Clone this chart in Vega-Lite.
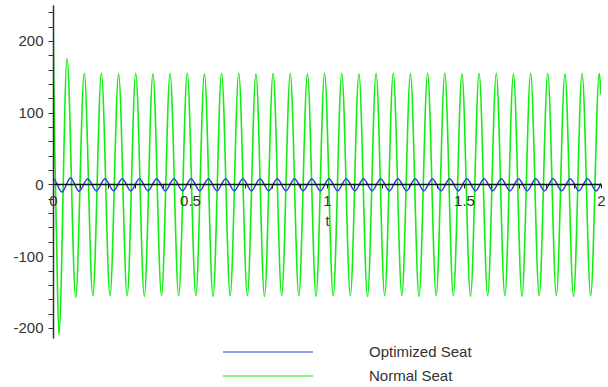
{
  "$schema": "https://vega.github.io/schema/vega-lite/v6.json",
  "width": 548,
  "height": 333,
  "autosize": {"type": "none"},
  "padding": {"left": 53, "top": 5, "right": 7, "bottom": 49},
  "background": "white",
  "config": {
    "view": {"stroke": null},
    "font": "Liberation Sans"
  },
  "datasets": {
    "normal": [
      {"t": 0, "v": 250}, {"t": 0.003, "v": 140}, {"t": 0.0135, "v": -85}, {"t": 0.0215, "v": -210},
      {"t": 0.0514, "v": 175}, {"t": 0.0828, "v": -157},
      {"t": 0.1141, "v": 155}, {"t": 0.1454, "v": -155}, {"t": 0.1767, "v": 155}, {"t": 0.2080, "v": -155},
      {"t": 0.2394, "v": 154}, {"t": 0.2707, "v": -155}, {"t": 0.3020, "v": 155}, {"t": 0.3333, "v": -156},
      {"t": 0.3647, "v": 154}, {"t": 0.3960, "v": -155}, {"t": 0.4273, "v": 155}, {"t": 0.4587, "v": -155},
      {"t": 0.4900, "v": 155}, {"t": 0.5213, "v": -155}, {"t": 0.5526, "v": 154}, {"t": 0.5840, "v": -156},
      {"t": 0.6153, "v": 155}, {"t": 0.6466, "v": -155}, {"t": 0.6779, "v": 155}, {"t": 0.7093, "v": -155},
      {"t": 0.7406, "v": 154}, {"t": 0.7719, "v": -156}, {"t": 0.8032, "v": 155}, {"t": 0.8346, "v": -155},
      {"t": 0.8659, "v": 155}, {"t": 0.8972, "v": -155}, {"t": 0.9286, "v": 154}, {"t": 0.9599, "v": -156},
      {"t": 0.9912, "v": 155}, {"t": 1.0225, "v": -155}, {"t": 1.0539, "v": 155}, {"t": 1.0852, "v": -155},
      {"t": 1.1165, "v": 154}, {"t": 1.1478, "v": -156}, {"t": 1.1792, "v": 155}, {"t": 1.2105, "v": -155},
      {"t": 1.2418, "v": 155}, {"t": 1.2732, "v": -155}, {"t": 1.3045, "v": 154}, {"t": 1.3358, "v": -156},
      {"t": 1.3671, "v": 155}, {"t": 1.3985, "v": -155}, {"t": 1.4298, "v": 155}, {"t": 1.4611, "v": -155},
      {"t": 1.4924, "v": 154}, {"t": 1.5238, "v": -156}, {"t": 1.5551, "v": 155}, {"t": 1.5864, "v": -155},
      {"t": 1.6178, "v": 155}, {"t": 1.6491, "v": -155}, {"t": 1.6804, "v": 154}, {"t": 1.7117, "v": -156},
      {"t": 1.7431, "v": 155}, {"t": 1.7744, "v": -155}, {"t": 1.8057, "v": 155}, {"t": 1.8370, "v": -155},
      {"t": 1.8684, "v": 154}, {"t": 1.8997, "v": -156}, {"t": 1.9310, "v": 155}, {"t": 1.9623, "v": -155},
      {"t": 1.9937, "v": 155}, {"t": 2.0, "v": 125}
    ],
    "optimized": [
      {"t": 0, "v": 7}, {"t": 0.001, "v": 8}, {"t": 0.0325, "v": -10.5}, {"t": 0.0639, "v": 9}, {"t": 0.0954, "v": -9.7},
      {"t": 0.1268, "v": 8}, {"t": 0.1583, "v": -9}, {"t": 0.1897, "v": 8}, {"t": 0.2212, "v": -9},
      {"t": 0.2526, "v": 8}, {"t": 0.2840, "v": -9}, {"t": 0.3155, "v": 8}, {"t": 0.3470, "v": -9},
      {"t": 0.3784, "v": 8}, {"t": 0.4098, "v": -9}, {"t": 0.4413, "v": 8}, {"t": 0.4728, "v": -9},
      {"t": 0.5042, "v": 8}, {"t": 0.5357, "v": -9}, {"t": 0.5671, "v": 8}, {"t": 0.5986, "v": -9},
      {"t": 0.6300, "v": 8}, {"t": 0.6615, "v": -9}, {"t": 0.6929, "v": 8}, {"t": 0.7244, "v": -9},
      {"t": 0.7558, "v": 8}, {"t": 0.7873, "v": -9}, {"t": 0.8187, "v": 8}, {"t": 0.8502, "v": -9},
      {"t": 0.8816, "v": 8}, {"t": 0.9131, "v": -9}, {"t": 0.9445, "v": 8}, {"t": 0.9760, "v": -9},
      {"t": 1.0074, "v": 8}, {"t": 1.0389, "v": -9}, {"t": 1.0703, "v": 8}, {"t": 1.1018, "v": -9},
      {"t": 1.1332, "v": 8}, {"t": 1.1647, "v": -9}, {"t": 1.1961, "v": 8}, {"t": 1.2276, "v": -9},
      {"t": 1.2590, "v": 8}, {"t": 1.2905, "v": -9}, {"t": 1.3219, "v": 8}, {"t": 1.3534, "v": -9},
      {"t": 1.3848, "v": 8}, {"t": 1.4163, "v": -9}, {"t": 1.4477, "v": 8}, {"t": 1.4792, "v": -9},
      {"t": 1.5106, "v": 8}, {"t": 1.5421, "v": -9}, {"t": 1.5735, "v": 8}, {"t": 1.6050, "v": -9},
      {"t": 1.6364, "v": 8}, {"t": 1.6679, "v": -9}, {"t": 1.6993, "v": 8}, {"t": 1.7308, "v": -9},
      {"t": 1.7622, "v": 8}, {"t": 1.7937, "v": -9}, {"t": 1.8251, "v": 8}, {"t": 1.8566, "v": -9},
      {"t": 1.8880, "v": 8}, {"t": 1.9195, "v": -9}, {"t": 1.9509, "v": 8}, {"t": 1.9824, "v": -9},
      {"t": 2.0, "v": 1.5}
    ]
  },
  "encoding": {
    "x": {
      "field": "t", "type": "quantitative",
      "scale": {"domain": [0, 2], "nice": false, "zero": false},
      "axis": {
        "orient": "bottom", "offset": -154, "zindex": 1,
        "values": [0, 0.1, 0.2, 0.3, 0.4, 0.5, 0.6, 0.7, 0.8, 0.9, 1, 1.1, 1.2, 1.3, 1.4, 1.5, 1.6, 1.7, 1.8, 1.9, 2],
        "labelExpr": "round(datum.value*10) % 5 == 0 ? '' + datum.value : ''",
        "grid": false, "domainColor": "#111111", "domainWidth": 1.5,
        "tickColor": "#222222", "tickSize": 4, "tickWidth": 1,
        "labelFont": "Liberation Sans", "labelFontSize": 15, "labelColor": "#333333", "labelPadding": 5,
        "labelOverlap": false, "labelFlush": false, "labelBound": false,
        "title": "t", "titleFont": "Liberation Sans", "titleFontSize": 14, "titleFontWeight": "normal",
        "titleColor": "#333333", "titlePadding": 6
      }
    },
    "y": {
      "field": "v", "type": "quantitative",
      "scale": {"domain": [-214, 250], "nice": false, "zero": false},
      "axis": {
        "zindex": 1,
        "values": [-200, -180, -160, -140, -120, -100, -80, -60, -40, -20, 0, 20, 40, 60, 80, 100, 120, 140, 160, 180, 200, 220, 240],
        "labelExpr": "datum.value % 100 == 0 ? '' + datum.value : ''",
        "grid": false, "domainColor": "#333333", "domainWidth": 1.5,
        "tickColor": "#333333", "tickSize": 5, "tickWidth": 1,
        "labelFont": "Liberation Sans", "labelFontSize": 15, "labelColor": "#333333", "labelPadding": 5,
        "labelOverlap": false, "labelFlush": false, "labelBound": false,
        "title": null
      }
    },
    "color": {
      "field": "series", "type": "nominal",
      "scale": {"domain": ["Optimized Seat", "Normal Seat"], "range": ["#2a3ee8", "#11ee11"]},
      "legend": {
        "orient": "none", "legendX": 204, "legendY": 336, "title": null,
        "symbolType": "M-4.5,0H4.5", "symbolSize": 400, "symbolStrokeWidth": 1.2,
        "labelOffset": 90, "labelFont": "Liberation Sans", "labelFontSize": 15, "labelColor": "#333333",
        "rowPadding": 5, "padding": 0
      }
    }
  },
  "layer": [
    {
      "data": {"name": "normal"},
      "transform": [{"calculate": "'Normal Seat'", "as": "series"}],
      "mark": {"type": "line", "interpolate": "monotone", "strokeWidth": 1.6, "clip": true}
    },
    {
      "data": {"name": "optimized"},
      "transform": [{"calculate": "'Optimized Seat'", "as": "series"}],
      "mark": {"type": "line", "interpolate": "monotone", "strokeWidth": 1.5, "clip": true}
    }
  ]
}
